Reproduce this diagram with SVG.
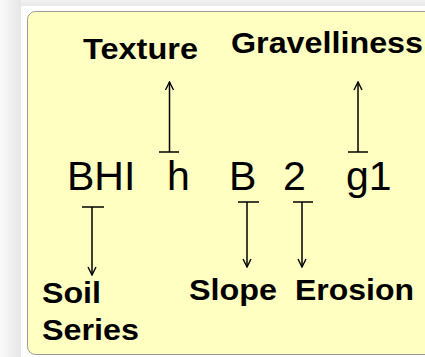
<svg xmlns="http://www.w3.org/2000/svg" width="425" height="357" viewBox="0 0 425 357">
<defs>
<linearGradient id="lg" x1="0" y1="0" x2="1" y2="0">
<stop offset="0" stop-color="#fafafa"/>
<stop offset="1" stop-color="#e6e6e6"/>
</linearGradient>
<linearGradient id="tg" x1="0" y1="0" x2="0" y2="1">
<stop offset="0" stop-color="#f2f2f2"/>
<stop offset="1" stop-color="#e8e8e8"/>
</linearGradient>
<marker id="ah" viewBox="0 0 10 10" refX="9" refY="5" markerWidth="10" markerHeight="10" markerUnits="userSpaceOnUse" orient="auto">
<path d="M1,1 L9,5 L1,9" fill="none" stroke="#000" stroke-width="1.4"/>
</marker>
</defs>
<style>
.lbl{font-family:"Liberation Sans",Arial,sans-serif;font-weight:bold;font-size:30px;fill:#000}
.code{font-family:"Liberation Sans",Arial,sans-serif;font-size:41px;fill:#000}
.conn line{stroke:#000;stroke-width:1.5}
</style>
<rect x="0" y="0" width="425" height="357" fill="#ffffff"/>
<rect x="0" y="0" width="425" height="6" fill="url(#tg)"/>
<rect x="0" y="0" width="21" height="357" fill="url(#lg)"/>
<rect id="panel" x="27.5" y="11.5" width="420" height="343" rx="8" fill="#FFFFC2" stroke="#999" stroke-width="1"/>
<g id="texture"><text class="lbl" x="83" y="59" textLength="115" lengthAdjust="spacingAndGlyphs">Texture</text></g>
<g id="gravelliness"><text class="lbl" x="231" y="53" textLength="192" lengthAdjust="spacingAndGlyphs">Gravelliness</text></g>
<g id="code">
<text class="code" x="67" y="190">BHI</text>
<text class="code" x="167" y="190">h</text>
<text class="code" x="229" y="190">B</text>
<text class="code" x="283" y="190">2</text>
<text class="code" x="346" y="190">g1</text>
</g>
<g id="soilseries"><text class="lbl" x="42" y="303" textLength="59" lengthAdjust="spacingAndGlyphs">Soil</text><text class="lbl" x="42" y="340" textLength="97" lengthAdjust="spacingAndGlyphs">Series</text></g>
<g id="slope"><text class="lbl" x="189" y="300" textLength="88" lengthAdjust="spacingAndGlyphs">Slope</text></g>
<g id="erosion"><text class="lbl" x="295" y="300" textLength="119" lengthAdjust="spacingAndGlyphs">Erosion</text></g>
<g class="conn" id="connectors">
<line x1="169.5" y1="152" x2="169.5" y2="82" marker-end="url(#ah)"/>
<line x1="159" y1="152" x2="179" y2="152"/>
<line x1="358" y1="152" x2="358" y2="82" marker-end="url(#ah)"/>
<line x1="348" y1="152" x2="368" y2="152"/>
<line x1="92" y1="207" x2="92" y2="275" marker-end="url(#ah)"/>
<line x1="82" y1="207" x2="104" y2="207"/>
<line x1="247" y1="202" x2="247" y2="267" marker-end="url(#ah)"/>
<line x1="238" y1="202" x2="259" y2="202"/>
<line x1="302" y1="202" x2="302" y2="267" marker-end="url(#ah)"/>
<line x1="293" y1="202" x2="313" y2="202"/>
</g>
</svg>
